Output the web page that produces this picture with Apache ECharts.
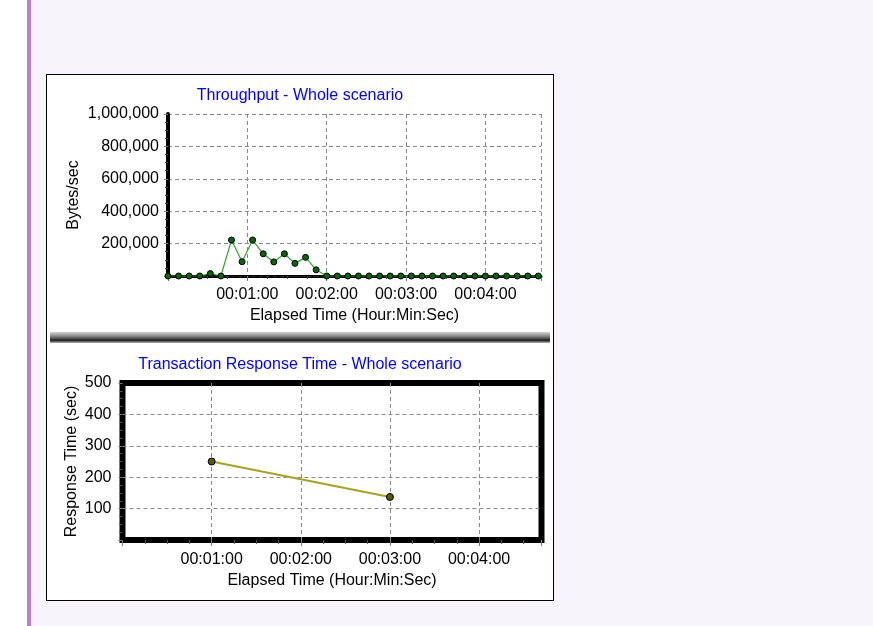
<!DOCTYPE html>
<html>
<head>
<meta charset="utf-8">
<script src="https://cdn.jsdelivr.net/npm/echarts@6/dist/echarts.min.js"></script>
<style>
  html, body { margin: 0; padding: 0; }
  body { width: 873px; height: 626px; background: #f8f4fb; position: relative; overflow: hidden; }
  #gutter { position: absolute; left: 0; top: 0; width: 27px; height: 626px; background: #ffffff; }
  #stripe { position: absolute; left: 27px; top: 0; width: 4px; height: 626px; background: #b67fda; }
  #panel { position: absolute; left: 46px; top: 74px; width: 506px; height: 525px; border: 1px solid #000; background: #fff; }
  #chart { width: 506px; height: 525px; }
</style>
</head>
<body>
<div id="gutter"></div>
<div id="stripe"></div>
<div id="panel"><div id="chart"></div></div>
<script>
// Throughput samples (elapsed seconds, bytes/sec)
const throughputSeconds = [0, 8, 16, 24, 32, 40, 48, 56, 64, 72, 80, 88, 96, 104, 112, 120,
  128, 136, 144, 152, 160, 168, 176, 184, 192, 200, 208, 216, 224, 232, 240, 248, 256, 264, 272, 280];
const throughputValues = [0, 0, 0, 0, 15000, 0, 222000, 88000, 222000, 137000, 87000, 137000, 78000, 115000, 38000, 0,
  0, 0, 0, 0, 0, 0, 0, 0, 0, 0, 0, 0, 0, 0, 0, 0, 0, 0, 0, 0];

// Transaction response time samples (elapsed seconds, seconds)
const responseSeconds = [60, 180];
const responseValues = [250, 137];

// Axis tick labels
const elapsedTickLabels = ['00:01:00', '00:02:00', '00:03:00', '00:04:00'];
const throughputTickLabels = ['200,000', '400,000', '600,000', '800,000', '1,000,000'];
const responseTickLabels = ['100', '200', '300', '400', '500'];

const FONT = '"Liberation Sans", Arial, sans-serif';
const GRID_LINE = { type: [4, 3], color: '#8a8a8a', width: 1 };

function elapsedLabel(v) {
  const idx = Math.round(v / 60) - 1;
  return elapsedTickLabels[idx] || '';
}
function pickLabel(list, step) {
  return function (v) { const i = Math.round(v / step) - 1; return list[i] || ''; };
}

const chart = echarts.init(document.getElementById('chart'), null, { renderer: 'canvas' });

const baseText = { color: '#000', fontFamily: FONT, fontSize: 16 };

chart.setOption({
  animation: false,
  backgroundColor: '#fff',
  title: [
    { text: 'Throughput - Whole scenario', left: 'center', top: 13, padding: 0,
      textStyle: { color: '#0000ff', fontFamily: FONT, fontSize: 16, fontWeight: 'normal' } },
    { text: 'Transaction Response Time - Whole scenario', left: 'center', top: 282, padding: 0,
      textStyle: { color: '#0000ff', fontFamily: FONT, fontSize: 16, fontWeight: 'normal' } }
  ],
  grid: [
    { left: 121, right: 12, top: 39, bottom: 324 },
    { left: 75.5, right: 11.5, top: 308, bottom: 60, show: true, borderColor: '#000', borderWidth: 6, backgroundColor: '#fff' }
  ],
  xAxis: [
    {
      type: 'value', gridIndex: 0, min: 0, max: 282, interval: 60,
      name: 'Elapsed Time (Hour:Min:Sec)', nameLocation: 'middle', nameGap: 32, nameMoveOverlap: false,
      nameTextStyle: baseText,
      axisLine: { show: true, onZero: false, lineStyle: { color: '#000', width: 3 } },
      axisTick: { show: true, length: 5, lineStyle: { color: '#777' } },
      minorTick: { show: true, splitNumber: 4, length: 3, lineStyle: { color: '#444' } },
      axisLabel: Object.assign({ margin: 11, showMinLabel: false, showMaxLabel: false, formatter: elapsedLabel }, baseText),
      splitLine: { show: true, lineStyle: GRID_LINE }
    },
    {
      type: 'value', gridIndex: 0, min: 0, max: 282, position: 'top',
      axisLine: { show: true, lineStyle: { color: '#222', width: 1, type: [4, 3] } },
      axisTick: { show: false }, axisLabel: { show: false }, splitLine: { show: false }
    },
    {
      type: 'value', gridIndex: 1, min: 0, max: 282, interval: 60,
      name: 'Elapsed Time (Hour:Min:Sec)', nameLocation: 'middle', nameGap: 33, nameMoveOverlap: false,
      nameTextStyle: baseText,
      axisLine: { show: false },
      axisTick: { show: true, length: 6, lineStyle: { color: '#777' } },
      minorTick: { show: true, splitNumber: 4, length: 4, lineStyle: { color: '#555' } },
      axisLabel: Object.assign({ margin: 12, showMinLabel: false, showMaxLabel: false, formatter: elapsedLabel }, baseText),
      splitLine: { show: true, showMinLine: false, showMaxLine: false, lineStyle: GRID_LINE }
    }
  ],
  yAxis: [
    {
      type: 'value', gridIndex: 0, min: 0, max: 1000000, interval: 200000,
      name: 'Bytes/sec', nameLocation: 'middle', nameGap: 86, nameMoveOverlap: false,
      nameTextStyle: baseText,
      axisLine: { show: true, lineStyle: { color: '#000', width: 4 } },
      axisTick: { show: true, length: 4, lineStyle: { color: '#777' } },
      minorTick: { show: true, splitNumber: 4, length: 3, lineStyle: { color: '#444' } },
      axisLabel: Object.assign({ margin: 9, showMinLabel: false, formatter: pickLabel(throughputTickLabels, 200000) }, baseText),
      splitLine: { show: true, lineStyle: GRID_LINE }
    },
    {
      type: 'value', gridIndex: 0, min: 0, max: 1000000, position: 'right',
      axisLine: { show: true, lineStyle: { color: '#000', width: 2 } },
      axisTick: { show: false }, axisLabel: { show: false }, splitLine: { show: false }
    },
    {
      type: 'value', gridIndex: 1, min: 0, max: 500, interval: 100,
      name: 'Response Time (sec)', nameLocation: 'middle', nameGap: 43, nameMoveOverlap: false,
      nameTextStyle: baseText,
      axisLine: { show: false },
      axisTick: { show: true, length: 4, lineStyle: { color: '#777' } },
      minorTick: { show: true, splitNumber: 4, length: 3, lineStyle: { color: '#555' } },
      axisLabel: Object.assign({ margin: 11, showMinLabel: false, formatter: pickLabel(responseTickLabels, 100) }, baseText),
      splitLine: { show: true, showMinLine: false, showMaxLine: false, lineStyle: GRID_LINE }
    }
  ],
  series: [
    {
      type: 'line', xAxisIndex: 0, yAxisIndex: 0,
      data: throughputSeconds.map((t, i) => [t, throughputValues[i]]),
      symbol: 'circle', symbolSize: 6, z: 5,
      lineStyle: { color: '#2fa52f', width: 1.2 },
      itemStyle: { color: '#0b650b', borderColor: '#000', borderWidth: 1 }
    },
    {
      type: 'line', xAxisIndex: 2, yAxisIndex: 2,
      data: responseSeconds.map((t, i) => [t, responseValues[i]]),
      symbol: 'circle', symbolSize: 7, z: 5,
      lineStyle: { color: '#a6a41f', width: 2 },
      itemStyle: { color: '#5c5a00', borderColor: '#000', borderWidth: 1 }
    }
  ],
  graphic: [
    {
      type: 'rect', left: 3, top: 257, z: 10,
      shape: { width: 500, height: 11 },
      style: {
        fill: new echarts.graphic.LinearGradient(0, 0, 0, 1, [
          { offset: 0, color: '#d2d2d2' },
          { offset: 0.3, color: '#999999' },
          { offset: 0.55, color: '#5e5e5e' },
          { offset: 0.75, color: '#1c1c1c' },
          { offset: 1, color: '#b8b8b8' }
        ])
      }
    }
  ]
});
</script>
</body>
</html>
